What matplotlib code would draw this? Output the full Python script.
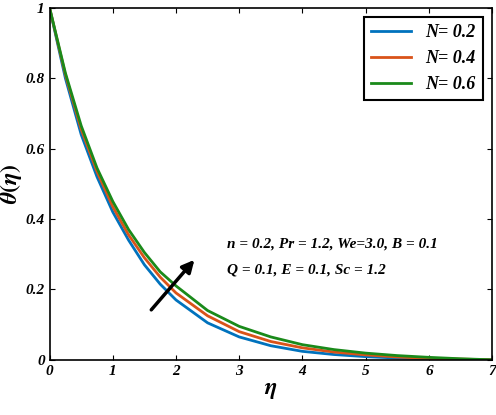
import matplotlib
matplotlib.use("Agg")
import matplotlib.pyplot as plt

eta = [0,0.25,0.5,0.75,1,1.25,1.5,1.75,2,2.5,3,3.5,4,4.5,5,5.5,6,6.5,7]
th_02 = [1,0.80,0.64,0.52,0.42,0.34,0.27,0.215,0.17,0.105,0.065,0.04,0.024,0.015,0.009,0.005,0.003,0.001,0]
th_04 = [1,0.81,0.655,0.535,0.435,0.355,0.29,0.235,0.19,0.125,0.08,0.052,0.034,0.022,0.014,0.008,0.004,0.002,0]
th_06 = [1,0.815,0.665,0.545,0.45,0.37,0.305,0.25,0.21,0.14,0.095,0.065,0.043,0.029,0.019,0.012,0.007,0.003,0]
labels = ["N= 0.2", "N= 0.4", "N= 0.6"]
colors = ["#0072BD", "#D95319", "#1a8a1a"]

plt.rcParams['font.family'] = ['Liberation Serif', 'DejaVu Serif']
plt.rcParams['mathtext.fontset'] = 'stix'
fig = plt.figure(figsize=(4.96, 4.15), dpi=100)
ax = fig.add_axes([0.1, 0.133, 0.892, 0.848])
for y, l, c in zip([th_02, th_04, th_06], labels, colors):
    ax.plot(eta, y, color=c, lw=2, label=l)
ax.set_xlim(0, 7); ax.set_ylim(0, 1)
ax.set_xticks(range(8)); ax.set_yticks([0,0.2,0.4,0.6,0.8,1])
ax.set_yticklabels(["0","0.2","0.4","0.6","0.8","1"])
ax.tick_params(direction='in', top=True, right=True, labelsize=11)
for t in ax.get_xticklabels()+ax.get_yticklabels():
    t.set_fontweight('bold'); t.set_fontstyle('italic')
for s in ax.spines.values(): s.set_linewidth(1.2)
ax.set_xlabel(r"$\boldsymbol{\eta}$", fontsize=17, labelpad=2)
ax.set_ylabel(r"$\boldsymbol{\theta(\eta)}$", fontsize=17, labelpad=1)
leg = ax.legend(loc='upper right', prop={'weight':'bold','style':'italic','size':13},
                fancybox=False, edgecolor='black', framealpha=1, handlelength=2.2)
leg.get_frame().set_linewidth(1.5)
ax.annotate("", xy=(2.32, 0.29), xytext=(1.58, 0.136),
            arrowprops=dict(arrowstyle='-|>', color='black', lw=2.5, mutation_scale=18))
ax.text(2.8, 0.33, "n = 0.2, Pr = 1.2, We=3.0, B = 0.1", fontsize=11, fontweight='bold', fontstyle='italic', va='center')
ax.text(2.8, 0.255, "Q = 0.1, E = 0.1, Sc = 1.2", fontsize=11, fontweight='bold', fontstyle='italic', va='center')
fig.savefig("out.png", dpi=100)
